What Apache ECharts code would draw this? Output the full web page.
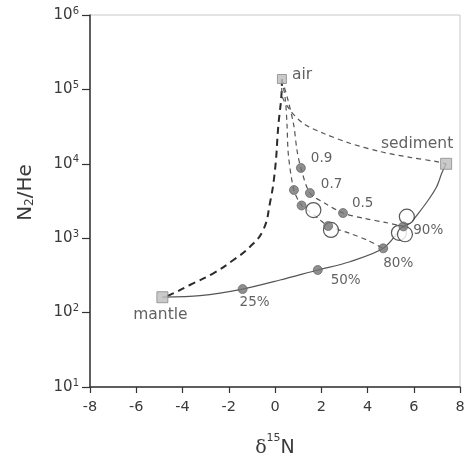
<!DOCTYPE html>
<html><head><meta charset="utf-8">
<script src="https://cdn.jsdelivr.net/npm/echarts@6/dist/echarts.min.js"></script>
<style>html,body{margin:0;padding:0;background:#fff}#c{width:467px;height:456px}</style>
</head><body><div id="c"></div>
<script>
// ---- data ----
const xMin = -8, xMax = 8, xStep = 2;
const yMin = 10, yMax = 1e6;

// end-members
const endNames = ['air', 'sediment', 'mantle'];
const endX = [0.30, 7.40, -4.87];
const endY = [138000, 10000, 161];

// mantle–sediment mixing curve (solid)
const mixCurveX = [-4.87, -3.24, -1.40, 0.22, 1.85, 3.24, 4.68, 5.55, 5.84, 6.20, 6.63, 6.99, 7.21, 7.40];
const mixCurveY = [161, 169, 207, 274, 374, 483, 731, 1440, 1585, 2160, 3260, 4920, 7450, 10000];

// mixing-curve fraction points
const fracLabels = ['25%', '50%', '80%', '90%'];
const fracX = [-1.40, 1.85, 4.68, 5.55];
const fracY = [207, 374, 731, 1440];

// air–mantle (thick dashed)
const airMantleX = [0.30, 0.29, 0.14, 0.00, -0.22, -0.51, -1.08, -1.80, -2.67, -3.68, -4.54, -4.87];
const airMantleY = [138000, 98000, 31500, 8260, 2950, 1290, 769, 509, 337, 235, 173, 161];

// air–sediment (dashed)
const airSedX = [0.30, 0.29, 0.65, 1.22, 2.09, 3.24, 4.54, 5.84, 6.99, 7.40];
const airSedY = [138000, 88700, 52800, 35000, 25700, 18900, 14600, 12200, 10700, 10000];

// air – 90% sample (dashed)
const line1X = [0.30, 0.56, 0.81, 0.95, 1.12, 1.51, 2.16, 2.94, 3.89, 4.76, 5.55];
const line1Y = [138000, 72100, 33200, 15300, 8790, 4050, 2950, 2180, 1840, 1630, 1440];
const line1DotLabels = ['0.9', '0.7', '0.5'];
const line1DotX = [1.12, 1.51, 2.94];
const line1DotY = [8790, 4050, 2180];

// air – 80% sample (dashed)
const line2X = [0.30, 0.45, 0.52, 0.58, 0.82, 1.15, 1.51, 1.95, 2.30, 3.24, 3.97, 4.68];
const line2Y = [138000, 72100, 33200, 13100, 4440, 2750, 2270, 1760, 1460, 1160, 946, 731];
const line2DotX = [0.82, 1.15, 2.30];
const line2DotY = [4440, 2750, 1460];

// measured samples (open circles)
const sampleX = [5.36, 1.66, 2.42, 5.70, 5.62];
const sampleY = [1180, 2390, 1290, 1950, 1130];

// ---- build ----
const zip = (xs, ys) => xs.map((x, i) => [x, ys[i]]);
const FONT = 'DejaVu Sans';
const TXT = '#3a3a3a';

const dotStyle = { color: '#737373', borderColor: '#5a5a5a', borderWidth: 0.8 };
const numLabel = (pos, dist, off) => ({ show: true, position: pos, distance: dist, offset: off, color: TXT, fontSize: 13.5, fontFamily: FONT });

const fracLabelCfg = [
  numLabel('bottom', 2, [12, 0]),
  numLabel('right', 8, [0, 11]),
  numLabel('bottom', 3, [15, 0]),
  numLabel('right', 5, [0, 4])
];
const l1LabelCfg = [
  numLabel('right', 5, [0, -9]),
  numLabel('right', 6, [0, -9]),
  numLabel('right', 4, [0, -10])
];
const endLabelCfg = [
  { position: 'right', distance: 5, offset: [0, -4] },
  { position: 'top', distance: 6, offset: [-29, 0] },
  { position: 'bottom', distance: 4, offset: [-2, 0] }
];
const endSizes = [9, 11, 11];

const dashLine = (data, opts) => Object.assign({
  type: 'line', data, symbol: 'none', smooth: 0.3, silent: true, z: 2,
  lineStyle: { color: '#555', width: 1.2, type: [5, 4] }
}, opts || {});

const option = {
  animation: false,
  backgroundColor: '#fff',
  grid: { left: 90, right: 7, top: 15, bottom: 69, show: true, borderColor: '#c8c8c8', borderWidth: 1,
          outerBoundsMode: 'none', containLabel: false },
  xAxis: {
    type: 'value', min: xMin, max: xMax, interval: xStep,
    axisLine: { onZero: false, lineStyle: { color: '#333', width: 1.5 } },
    axisTick: { length: 6, lineStyle: { color: '#333', width: 1.2 } },
    axisLabel: { color: TXT, fontSize: 14.5, fontFamily: FONT, margin: 13 },
    splitLine: { show: false },
    name: '{d|δ}{s|15}{n|N}', nameLocation: 'middle', nameGap: 46,
    nameTextStyle: {
      color: TXT,
      rich: {
        d: { fontSize: 19, fontFamily: 'DejaVu Serif', color: TXT, verticalAlign: 'bottom' },
        s: { fontSize: 11, fontFamily: FONT, color: TXT, verticalAlign: 'top', padding: [0, 0, 14, 0] },
        n: { fontSize: 19, fontFamily: FONT, color: TXT, verticalAlign: 'bottom' }
      }
    }
  },
  yAxis: {
    type: 'log', logBase: 10, min: yMin, max: yMax,
    axisLine: { onZero: false, lineStyle: { color: '#333', width: 1.5 } },
    axisTick: { length: 8, lineStyle: { color: '#333', width: 1.2 } },
    minorTick: { show: false },
    splitLine: { show: false },
    axisLabel: {
      margin: 11,
      formatter: v => '{b|10}{s|' + Math.round(Math.log10(v)) + '}',
      rich: {
        b: { fontSize: 15, fontFamily: FONT, color: TXT },
        s: { fontSize: 10, fontFamily: FONT, color: TXT, verticalAlign: 'top', padding: [0, 0, 8, 0] }
      }
    },
    name: '{n|N}{s|2}{n|/He}', nameLocation: 'middle', nameGap: 54, nameRotate: 90,
    nameTextStyle: {
      padding: [0, 0, 0, 17],
      rich: {
        n: { fontSize: 20, fontFamily: FONT, color: TXT },
        s: { fontSize: 12, fontFamily: FONT, color: TXT, verticalAlign: 'bottom', padding: [8, 0, 0, 0] }
      }
    }
  },
  series: [
    dashLine(zip(airMantleX, airMantleY), { smooth: 0.45, lineStyle: { color: '#2b2b2b', width: 2, type: [7, 5] } }),
    dashLine(zip(airSedX, airSedY)),
    dashLine(zip(line1X, line1Y)),
    dashLine(zip(line2X, line2Y)),
    { type: 'line', data: zip(mixCurveX, mixCurveY), symbol: 'none', smooth: 0.3, silent: true, z: 2,
      lineStyle: { color: '#555', width: 1.2 } },
    { type: 'scatter', z: 3, symbol: 'circle', symbolSize: 15, data: zip(sampleX, sampleY),
      itemStyle: { color: '#fff', borderColor: '#2f2f2f', borderWidth: 1.2 } },
    { type: 'scatter', z: 4, symbolSize: 9, itemStyle: dotStyle, data: zip(line2DotX, line2DotY) },
    { type: 'scatter', z: 4, symbolSize: 9, itemStyle: dotStyle,
      data: line1DotX.map((x, i) => ({ value: [x, line1DotY[i]], label: Object.assign({ formatter: line1DotLabels[i] }, l1LabelCfg[i]) })) },
    { type: 'scatter', z: 4, symbolSize: 9, itemStyle: dotStyle,
      data: fracX.map((x, i) => ({ value: [x, fracY[i]], label: Object.assign({ formatter: fracLabels[i] }, fracLabelCfg[i]) })) },
    { type: 'scatter', z: 5, symbol: 'rect',
      itemStyle: { color: '#bdbdbd', borderColor: '#8a8a8a', borderWidth: 1 },
      data: endX.map((x, i) => ({
        value: [x, endY[i]], symbolSize: endSizes[i],
        label: Object.assign({ show: true, formatter: endNames[i], color: TXT, fontSize: 15.5, fontFamily: FONT }, endLabelCfg[i])
      })) }
  ]
};
const chart = echarts.init(document.getElementById('c'), null, { renderer: 'canvas' });
chart.setOption(option);
</script></body></html>
